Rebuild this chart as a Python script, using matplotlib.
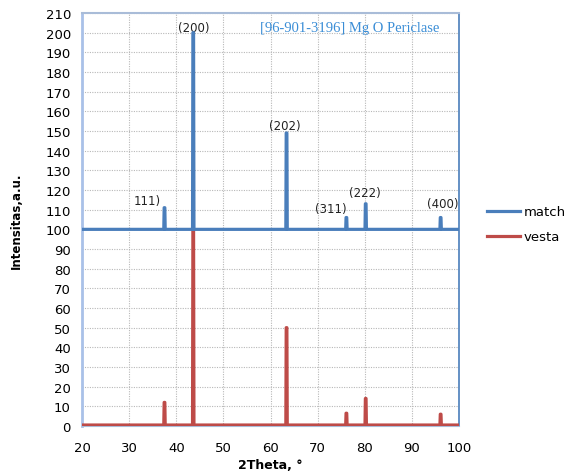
import matplotlib.pyplot as plt
import numpy as np

# peak positions (2theta) and hkl labels
peak_pos    = [37.5, 43.6, 63.4, 76.1, 80.2, 96.1]
hkl_labels  = ["111)", "(200)", "(202)", "(311)", "(222)", "(400)"]

# match pattern (offset by 100) and vesta pattern heights
match_base    = 100
match_heights = [111, 200, 149, 106, 113, 106]
vesta_base    = 0.5
vesta_heights = [12, 100, 50, 6.5, 14, 6]

label_x = [33.8, 43.8, 63.1, 72.8, 80.0, 96.6]
label_y = [114.9, 202.8, 153.0, 110.8, 118.5, 112.9]

BLUE = "#4a7ebb"
RED  = "#be4b48"


def stick_pattern(base, heights):
    xs, ys = [20], [base]
    for p, h in zip(peak_pos, heights):
        xs += [p - 0.15, p - 0.07, p + 0.07, p + 0.15]
        ys += [base, h, h, base]
    xs.append(100)
    ys.append(base)
    return xs, ys


fig = plt.figure(figsize=(5.70, 4.77), dpi=100)
ax = fig.add_axes([0.1439, 0.1048, 0.6614, 0.8658])

vx, vy = stick_pattern(vesta_base, vesta_heights)
mx, my = stick_pattern(match_base, match_heights)
ax.plot(vx, vy, color=RED, lw=2.3, label="vesta", zorder=3)
ax.plot(mx, my, color=BLUE, lw=2.3, label="match", zorder=4)

ax.set_xlim(20, 100)
ax.set_ylim(0, 210)
ax.set_xticks(np.arange(20, 101, 10))
ax.set_yticks(np.arange(0, 211, 10))
ax.tick_params(length=0, labelsize=9.5)
ax.tick_params(axis="x", pad=11)
ax.tick_params(axis="y", pad=8)
ax.grid(True, color="#b8b8b8", ls=(0, (1, 1.2)), lw=0.8)

ax.spines["left"].set_color("#a9c1e8")
ax.spines["left"].set_linewidth(2.0)
ax.spines["top"].set_color("#a9bcd8")
ax.spines["top"].set_linewidth(1.5)
ax.spines["right"].set_color(BLUE)
ax.spines["right"].set_linewidth(1.2)
ax.spines["bottom"].set_color("#a9bcd8")

for lx, ly, t in zip(label_x, label_y, hkl_labels):
    ax.text(lx, ly, t, ha="center", va="center", fontsize=8.5, color="#222222")

ax.text(76.9, 202.8, "[96-901-3196] Mg O Periclase", ha="center", va="center",
        fontsize=10.5, color="#3a8dd6", family="Liberation Serif")

ax.set_xlabel("2Theta, °", fontsize=9, fontweight="bold", labelpad=3)
ax.set_ylabel("Intensitas,a.u.", fontsize=8.5, fontweight="bold", labelpad=16)

handles, labels = ax.get_legend_handles_labels()
fig.legend(handles[::-1], labels[::-1], loc="upper left",
           bbox_to_anchor=(0.833, 0.592), frameon=False, fontsize=9.5,
           handlelength=2.5, labelspacing=0.9, handletextpad=0.3)

fig.savefig("out.png", dpi=100)
